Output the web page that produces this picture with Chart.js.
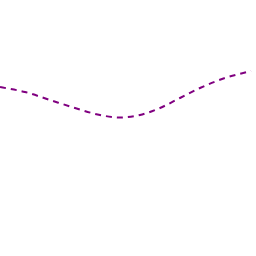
<!DOCTYPE html>
<html>
<head>
<meta charset="utf-8">
<script src="https://cdn.jsdelivr.net/npm/chart.js@4"></script>
<style>
  html, body { margin: 0; padding: 0; background: #fff; }
  #wrap { width: 256px; height: 256px; }
</style>
</head>
<body>
<div id="wrap"><canvas id="myChart"></canvas></div>
<script>
'use strict';
const xs = [0, 25, 50, 75, 100, 120, 140, 160, 180, 200, 225, 251];
const ys = [169, 164, 156, 148, 141, 138.5, 141, 148, 158, 168, 178, 185];

const data = {
  datasets: [
    {
      data: xs.map((x, i) => ({ x: x, y: ys[i] })),
      borderColor: '#800080',
      borderWidth: 2,
      borderDash: [6, 5],
      pointRadius: 0,
      cubicInterpolationMode: 'monotone',
      fill: false
    }
  ]
};

const options = {
  animation: false,
  responsive: true,
  maintainAspectRatio: false,
  plugins: { legend: { display: false }, tooltip: { enabled: false } },
  scales: {
    x: { type: 'linear', min: 0, max: 256, display: false },
    y: { min: 0, max: 256, display: false }
  }
};

new Chart(document.getElementById('myChart'), { type: 'line', data: data, options: options });
</script>
</body>
</html>
